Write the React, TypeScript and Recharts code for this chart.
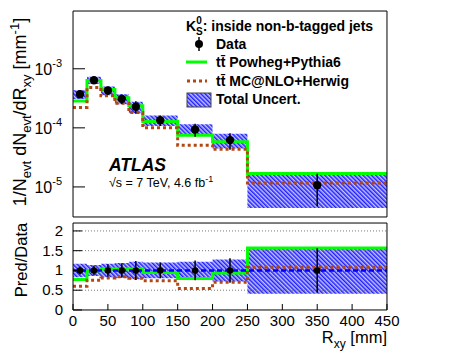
import React from 'react';
import { ComposedChart, Line, Area, Scatter, XAxis, YAxis, ErrorBar, ReferenceLine } from 'recharts';

// bins in R_xy [mm]
const binEdges = [0, 20, 40, 60, 80, 100, 150, 200, 250, 450];
const binCenters = [10, 30, 50, 70, 90, 125, 175, 225, 350];

// 1/N dN/dR [mm^-1]
const dataValues = [3.7e-4, 6.4e-4, 4.3e-4, 3.1e-4, 2.27e-4, 1.35e-4, 9.4e-5, 6.2e-5, 1.07e-5];
const dataRelErr = [0.1, 0.12, 0.16, 0.18, 0.24, 0.2, 0.25, 0.31, 0.56];
const totalRelUnc = [0.17, 0.14, 0.17, 0.19, 0.22, 0.2, 0.22, 0.28, 0.59];
const powhegValues = [2.85e-4, 6.35e-4, 4.47e-4, 3.22e-4, 2.36e-4, 1.28e-4, 7.5e-5, 5.8e-5, 1.68e-5];
const mcatnloValues = [2.22e-4, 4.8e-4, 3.48e-4, 2.6e-4, 1.82e-4, 1.0e-4, 5.1e-5, 4.34e-5, 1.16e-5];

// axis ticks
const xMajorTicks = [0, 50, 100, 150, 200, 250, 300, 350, 400, 450];
const xMinorTicks = Array.from({ length: 46 }, (_, i) => i * 10);
const decadeTicks = [1e-5, 1e-4, 1e-3];
const logMinorTicks = [1e-6, 1e-5, 1e-4, 1e-3]
  .flatMap((d) => [2, 3, 4, 5, 6, 7, 8, 9].map((m) => m * d))
  .filter((v) => v > 3.1e-6 && v < 9.5e-3);
const ratioTicks = [0, 0.5, 1, 1.5, 2];
const ratioMinorTicks = Array.from({ length: 23 }, (_, i) => Math.round(i * 10) / 100);
const ratioGrid = [0.5, 1.5, 2];

const FONT = '"Liberation Sans", Arial, Helvetica, sans-serif';
const GREEN = '#00ff00';
const BROWN = '#b34712';
const TOP_DOMAIN: [number, number] = [3.1e-6, 9.5e-3];
const RATIO_DOMAIN: [number, number] = [0, 2.2];
const THIN = 0.01; // axes need a non-zero size to be drawn

const nBins = dataValues.length;

const stepRows = binEdges.map((x, i) => {
  const k = Math.min(i, nBins - 1);
  const d = dataValues[k];
  const u = totalRelUnc[k];
  return {
    x,
    powheg: powhegValues[k],
    mcatnlo: mcatnloValues[k],
    band: [d * (1 - u), d * (1 + u)],
    rPowheg: powhegValues[k] / d,
    rMcatnlo: mcatnloValues[k] / d,
    rBand: [1 - u, 1 + u],
  };
});

const points = binCenters.map((x, i) => ({
  x,
  y: dataValues[i],
  err: [dataValues[i] * dataRelErr[i], dataValues[i] * dataRelErr[i]],
  ry: 1,
  rerr: [dataRelErr[i], dataRelErr[i]],
}));

const TopYTick = (props: any) => {
  const { x, y, payload } = props;
  const exp = Math.round(Math.log10(payload.value));
  return (
    <text x={x} y={y} dy={6} textAnchor="end" fontSize={16} fontFamily={FONT} fill="#000">
      10<tspan dy={-8} fontSize={11}>{exp}</tspan>
    </text>
  );
};

const RatioYTick = (props: any) => {
  const { x, y, payload } = props;
  return (
    <text x={x} y={y} dy={5} textAnchor="end" fontSize={15} fontFamily={FONT} fill="#000">
      {payload.value}
    </text>
  );
};

const XTick = (props: any) => {
  const { x, y, payload } = props;
  return (
    <text x={x} y={y} dy={10.5} textAnchor="middle" fontSize={15} fontFamily={FONT} fill="#000">
      {payload.value}
    </text>
  );
};

const dot = (r: number) => (p: any) => <circle cx={p.cx} cy={p.cy} r={r} fill="#000" />;

const hatchDefs = (id: string) => (
  <defs>
    <pattern id={id} width={3} height={3} patternUnits="userSpaceOnUse" patternTransform="rotate(-45)">
      <rect width={3} height={3} fill="#c4c4ff" />
      <line x1={0.75} y1={0} x2={0.75} y2={3} stroke="#1f1fff" strokeWidth={1.5} />
    </pattern>
  </defs>
);

const axisLine = { stroke: '#000', strokeWidth: 1 };

export default function App() {
  return (
    <div style={{ position: 'absolute', left: 0, top: 0, width: 456, height: 354, background: '#fff' }}>
      <div style={{ position: 'absolute', left: 0, top: 0 }}>
        <ComposedChart width={456} height={220} margin={{ top: 11, right: 69, bottom: 3, left: 73 }}>
          {hatchDefs('hatchTop')}
          <XAxis xAxisId="xn" type="number" domain={[0, 450]} ticks={xMinorTicks} allowDataOverflow height={THIN} tickSize={-4} tick={false} axisLine={false} tickLine={axisLine} interval={0} />
          <XAxis xAxisId="xm" type="number" dataKey="x" domain={[0, 450]} ticks={xMajorTicks} allowDataOverflow height={THIN} tickSize={-8} tick={false} axisLine={axisLine} tickLine={axisLine} interval={0} />
          <XAxis xAxisId="xtn" orientation="top" type="number" domain={[0, 450]} ticks={xMinorTicks} allowDataOverflow height={THIN} tickSize={-4} tick={false} axisLine={false} tickLine={axisLine} interval={0} />
          <XAxis xAxisId="xt" orientation="top" type="number" domain={[0, 450]} ticks={xMajorTicks} allowDataOverflow height={THIN} tickSize={-8} tick={false} axisLine={axisLine} tickLine={axisLine} interval={0} />
          <YAxis yAxisId="yn" scale="log" type="number" domain={TOP_DOMAIN} ticks={logMinorTicks} allowDataOverflow width={THIN} tickSize={-6} tick={false} axisLine={false} tickLine={axisLine} interval={0} />
          <YAxis yAxisId="ym" scale="log" type="number" domain={TOP_DOMAIN} ticks={decadeTicks} allowDataOverflow width={THIN} tickSize={-12} tickMargin={23} tick={TopYTick} axisLine={axisLine} tickLine={axisLine} interval={0} />
          <YAxis yAxisId="yrn" orientation="right" scale="log" type="number" domain={TOP_DOMAIN} ticks={logMinorTicks} allowDataOverflow width={THIN} tickSize={-6} tick={false} axisLine={false} tickLine={axisLine} interval={0} />
          <YAxis yAxisId="yr" orientation="right" scale="log" type="number" domain={TOP_DOMAIN} ticks={decadeTicks} allowDataOverflow width={THIN} tickSize={-12} tick={false} axisLine={axisLine} tickLine={axisLine} interval={0} />

          <Area xAxisId="xm" yAxisId="ym" data={stepRows} dataKey="band" type="stepAfter" stroke="none" fill="url(#hatchTop)" fillOpacity={1} isAnimationActive={false} activeDot={false} />
          <Line xAxisId="xm" yAxisId="ym" data={stepRows} dataKey="powheg" type="stepAfter" stroke={GREEN} strokeWidth={3} dot={false} activeDot={false} isAnimationActive={false} />
          <Line xAxisId="xm" yAxisId="ym" data={stepRows} dataKey="mcatnlo" type="stepAfter" stroke={BROWN} strokeWidth={3} strokeDasharray="3 3" dot={false} activeDot={false} isAnimationActive={false} />
          <Scatter xAxisId="xm" yAxisId="ym" data={points} dataKey="y" shape={dot(4.2)} isAnimationActive={false}>
            <ErrorBar dataKey="err" direction="y" width={0} stroke="#000" strokeWidth={1.5} />
          </Scatter>
        </ComposedChart>
      </div>

      <div style={{ position: 'absolute', left: 0, top: 222 }}>
        <ComposedChart width={456} height={132} margin={{ top: 1, right: 69, bottom: 44, left: 73 }}>
          {hatchDefs('hatchRatio')}
          <XAxis xAxisId="xn" type="number" domain={[0, 450]} ticks={xMinorTicks} allowDataOverflow height={THIN} tickSize={-3} tick={false} axisLine={false} tickLine={axisLine} interval={0} />
          <XAxis xAxisId="xm" type="number" dataKey="x" domain={[0, 450]} ticks={xMajorTicks} allowDataOverflow height={THIN} tickSize={-6} tickMargin={12} tick={XTick} axisLine={axisLine} tickLine={axisLine} interval={0} />
          <XAxis xAxisId="xtn" orientation="top" type="number" domain={[0, 450]} ticks={xMinorTicks} allowDataOverflow height={THIN} tickSize={-3} tick={false} axisLine={false} tickLine={axisLine} interval={0} />
          <XAxis xAxisId="xt" orientation="top" type="number" domain={[0, 450]} ticks={xMajorTicks} allowDataOverflow height={THIN} tickSize={-6} tick={false} axisLine={axisLine} tickLine={axisLine} interval={0} />
          <YAxis yAxisId="yn" type="number" domain={RATIO_DOMAIN} ticks={ratioMinorTicks} allowDataOverflow width={THIN} tickSize={-5} tick={false} axisLine={false} tickLine={axisLine} interval={0} />
          <YAxis yAxisId="ym" type="number" domain={RATIO_DOMAIN} ticks={ratioTicks} allowDataOverflow width={THIN} tickSize={-9} tickMargin={19} tick={RatioYTick} axisLine={axisLine} tickLine={axisLine} interval={0} />
          <YAxis yAxisId="yrn" orientation="right" type="number" domain={RATIO_DOMAIN} ticks={ratioMinorTicks} allowDataOverflow width={THIN} tickSize={-5} tick={false} axisLine={false} tickLine={axisLine} interval={0} />
          <YAxis yAxisId="yr" orientation="right" type="number" domain={RATIO_DOMAIN} ticks={ratioTicks} allowDataOverflow width={THIN} tickSize={-9} tick={false} axisLine={axisLine} tickLine={axisLine} interval={0} />

          {ratioGrid.map((v) => (
            <ReferenceLine key={v} xAxisId="xm" yAxisId="ym" y={v} stroke="#777" strokeWidth={1} strokeDasharray="1 2" />
          ))}
          <Area xAxisId="xm" yAxisId="ym" data={stepRows} dataKey="rBand" type="stepAfter" stroke="none" fill="url(#hatchRatio)" fillOpacity={1} isAnimationActive={false} activeDot={false} />
          <Line xAxisId="xm" yAxisId="ym" data={stepRows} dataKey="rPowheg" type="stepAfter" stroke={GREEN} strokeWidth={3} dot={false} activeDot={false} isAnimationActive={false} />
          <Line xAxisId="xm" yAxisId="ym" data={stepRows} dataKey="rMcatnlo" type="stepAfter" stroke={BROWN} strokeWidth={3} strokeDasharray="3 3" dot={false} activeDot={false} isAnimationActive={false} />
          <ReferenceLine xAxisId="xm" yAxisId="ym" y={1} stroke="#0000ff" strokeWidth={2.5} strokeDasharray="5 3" />
          <Scatter xAxisId="xm" yAxisId="ym" data={points} dataKey="ry" shape={dot(3.3)} isAnimationActive={false}>
            <ErrorBar dataKey="rerr" direction="y" width={0} stroke="#000" strokeWidth={1.5} />
          </Scatter>
        </ComposedChart>
      </div>

      <svg width={456} height={354} style={{ position: 'absolute', left: 0, top: 0, pointerEvents: 'none' }} fontFamily={FONT}>
        {/* axis titles */}
        <text transform="rotate(-90)" x={-112} y={26} textAnchor="middle" fontSize={18} fill="#000">
          1/N<tspan dy={5} fontSize={13}>evt</tspan>
          <tspan dy={-5}> dN</tspan>
          <tspan dy={5} fontSize={13}>evt</tspan>
          <tspan dy={-5}>/dR</tspan>
          <tspan dy={5} fontSize={13}>xy</tspan>
          <tspan dy={-5}> [mm</tspan>
          <tspan dy={-7} fontSize={13}>-1</tspan>
          <tspan dy={7}>]</tspan>
        </text>
        <text transform="rotate(-90)" x={-260} y={27} textAnchor="middle" fontSize={16.5} fill="#000">
          Pred/Data
        </text>
        <text x={387} y={343} textAnchor="end" fontSize={16.5} fill="#000">
          R<tspan dy={5} fontSize={12}>xy</tspan>
          <tspan dy={-5}> [mm]</tspan>
        </text>

        {/* experiment label */}
        <text x={109} y={171} fontSize={17.5} fontWeight="bold" fontStyle="italic" fill="#000">ATLAS</text>
        <text x={109} y={187} fontSize={12.5} fill="#000">
          √s = 7 TeV, 4.6 fb<tspan dy={-5} fontSize={9}>-1</tspan>
        </text>

        {/* legend */}
        <g fontSize={14} fontWeight="bold" fill="#000">
          <text x={186} y={31}>
            K<tspan dy={-7} fontSize={10}>0</tspan>
            <tspan dx={-5.6} dy={11} fontSize={10}>S</tspan>
            <tspan dy={-4}>: inside non-b-tagged jets</tspan>
          </text>
          <line x1={199} y1={37} x2={199} y2={51} stroke="#000" strokeWidth={1.5} />
          <circle cx={199} cy={44} r={4} fill="#000" />
          <text x={216} y={49}>Data</text>
          <line x1={186} y1={62} x2={207} y2={62} stroke={GREEN} strokeWidth={3} />
          <text x={216} y={67}>t{'t\u0304'} Powheg+Pythia6</text>
          <line x1={187} y1={81} x2={207} y2={81} stroke={BROWN} strokeWidth={3} strokeDasharray="3 3" />
          <text x={216} y={86}>t{'t\u0304'} MC@NLO+Herwig</text>
          <rect x={187} y={93} width={24} height={14} fill="url(#hatchTop)" stroke="#444" strokeWidth={1} />
          <text x={216} y={104}>Total Uncert.</text>
        </g>
      </svg>
    </div>
  );
}
